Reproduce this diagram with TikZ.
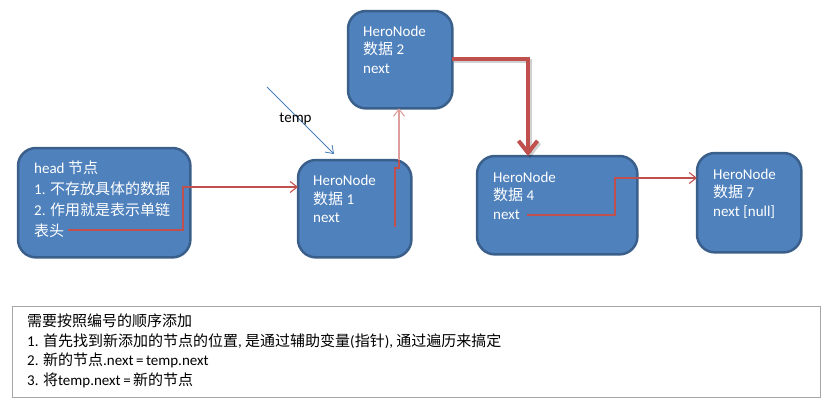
\documentclass[tikz,border=0pt]{standalone}
\usepackage{fontspec}
\setmainfont{Carlito}
\newfontfamily\cjk{Noto Sans CJK SC}
\usetikzlibrary{arrows.meta,calc}
\definecolor{boxfill}{HTML}{4F81BD}
\definecolor{boxline}{HTML}{3A5F8B}
\definecolor{linkred}{HTML}{C0504D}
\definecolor{palered}{HTML}{DE9E9C}
\definecolor{tempblue}{HTML}{4A7EBB}
\begin{document}
\begin{tikzpicture}[x=1pt,y=-1pt,
  nodebox/.style={draw=boxline,fill=boxfill,line width=2.5pt,rounded corners=18pt,inner sep=0pt},
  boxtext/.style={anchor=north west,inner sep=0pt,text=white,align=left,font=\fontsize{15}{18.5}\selectfont},
  notetext/.style={anchor=north west,inner sep=0pt,text=black,align=left,font=\fontsize{15}{19.5}\selectfont},
  thinlink/.style={draw=linkred,line width=1.1pt,-{Straight Barb[length=7pt,width=11pt]}},
  thicklink/.style={draw=linkred,line width=4pt,-{Straight Barb[length=12pt,width=19pt]}}
]
\useasboundingbox (0,0) rectangle (834,400);

% boxes
\node[draw=none,inner sep=0pt,minimum width=172pt,minimum height=109pt,anchor=north west] (head) at (18,148) {};
\node[draw=none,inner sep=0pt,minimum width=113pt,minimum height=97pt,anchor=north west] (n1) at (298,160) {};
\node[draw=none,inner sep=0pt,minimum width=104pt,minimum height=97pt,anchor=north west] (n2) at (348,11) {};
\node[draw=none,inner sep=0pt,minimum width=160pt,minimum height=98pt,anchor=north west] (n4) at (477,156) {};
\node[draw=none,inner sep=0pt,minimum width=104pt,minimum height=99pt,anchor=north west] (n7) at (697,153) {};
\path[nodebox] (head.north west) rectangle (head.south east);
\path[nodebox] (n1.north west) rectangle (n1.south east);
\path[nodebox] (n2.north west) rectangle (n2.south east);
\path[nodebox] (n4.north west) rectangle (n4.south east);
\path[nodebox] (n7.north west) rectangle (n7.south east);

% texts
\node[boxtext,font=\fontsize{15}{21}\selectfont] (headtxt) at (34,160.5)
  {head {\cjk 节点}\\1. {\cjk 不存放具体的数据}\\2. {\cjk 作用就是表示单链}\\{\cjk 表头}};
\node[boxtext] (n1txt) at (313,175) {HeroNode\\{\cjk 数据} 1\\next};
\node[boxtext] (n2txt) at (363,25.5) {HeroNode\\{\cjk 数据} 2\\next};
\node[boxtext] (n4txt) at (493,171.5) {HeroNode\\{\cjk 数据} 4\\next};
\node[boxtext] (n7txt) at (713,168.5) {HeroNode\\{\cjk 数据} 7\\next [null]};

% connectors
\coordinate (hs) at (68,230);
\draw[thinlink] (hs) -- (183,230) -- (183,187) -- (n1.west |- 0,187);
\coordinate (n1s) at (395,227);
\coordinate (n1t) at (399,160);
\draw[linkred,line width=1.1pt] (n1s) -- (395,168) -- (399,168) -- (n1t);
\draw[palered,line width=1.1pt,-{Straight Barb[length=7pt,width=11pt]}] (n1t) -- (n2.south -| n1t);
\draw[black,opacity=0.18,line width=4pt,-{Straight Barb[length=12pt,width=19pt]}] ($(n2.east |- 0,59)+(2,2)$) -- (530,61) -- ($(n4.north -| 528,0)+(2,2)$);
\draw[thicklink] (n2.east |- 0,59) -- (528,59) -- (n4.north -| 528,0);
\coordinate (n4s) at (527,215);
\draw[thinlink] (n4s) -- (615,215) -- (615,178) -- (n7.west |- 0,178);

% temp pointer
\coordinate (ts) at (267,87);
\draw[tempblue,line width=0.8pt,-{Straight Barb[length=7pt,width=10pt]}] (ts) -- ($(n1.north west)+(36,-6)$);
\node[inner sep=0pt,font=\fontsize{15}{18}\selectfont] (templbl) at (295.5,119) {temp};

% note box
\node[draw=black!35,line width=1pt,inner sep=0pt,minimum width=808pt,minimum height=91pt,anchor=north west] (note) at (12,306) {};
\node[notetext] (notetxt) at (27,314) {{\cjk 需要按照编号的顺序添加}\\
1. {\cjk 首先找到新添加的节点的位置}, {\cjk 是通过辅助变量}({\cjk 指针}), {\cjk 通过遍历来搞定}\\
2. {\cjk 新的节点}.next\,=\,temp.next\\
3. {\cjk 将}temp.next\,=\,{\cjk 新的节点}};
\end{tikzpicture}
\end{document}
